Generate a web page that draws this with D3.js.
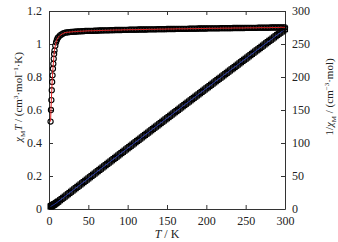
<!DOCTYPE html>
<html><head><meta charset="utf-8">
<script src="https://cdn.jsdelivr.net/npm/d3@7"></script>
<style>
html,body{margin:0;padding:0;background:#fff;}
svg{display:block;}
text{font-family:"Liberation Serif","Times New Roman",serif;fill:#222;}
</style></head><body>
<script>
const temps = [2,2.5,3,3.5,4,4.5,5,5.5,6,6.5,7,8,9,10,11,12,14,16,18,
20,22,24,26,28,30,32,34,36,38,40,42,44,46,48,50,52,54,56,58,60,62,64,66,68,70,72,74,76,78,80,82,84,86,88,90,92,94,96,98,100,
102,104,106,108,110,112,114,116,118,120,122,124,126,128,130,132,134,136,138,140,142,144,146,148,150,152,154,156,158,160,
162,164,166,168,170,172,174,176,178,180,182,184,186,188,190,192,194,196,198,200,202,204,206,208,210,212,214,216,218,220,
222,224,226,228,230,232,234,236,238,240,242,244,246,248,250,252,254,256,258,260,262,264,266,268,270,272,274,276,278,280,
282,284,286,288,290,292,294,296,298,300];
const chiT = [0.53,0.60,0.66,0.72,0.77,0.81,0.85,0.88,0.91,0.94,0.96,0.99,1.01,1.025,1.035,1.042,1.052,1.058,1.064,
1.068,1.070,1.071,1.072,1.073,1.074,1.075,1.075,1.076,1.077,1.077,1.078,1.078,1.079,1.079,1.080,1.080,1.080,1.080,1.081,1.081,1.081,1.082,1.082,1.082,1.083,1.083,1.083,1.083,1.084,1.084,1.084,1.085,1.085,1.085,1.085,1.085,1.086,1.086,1.086,1.086,
1.087,1.087,1.087,1.087,1.087,1.087,1.088,1.088,1.088,1.088,1.088,1.088,1.089,1.089,1.089,1.089,1.089,1.089,1.090,1.090,1.090,1.090,1.090,1.090,1.091,1.091,1.091,1.091,1.091,1.091,
1.092,1.092,1.092,1.092,1.092,1.092,1.092,1.092,1.093,1.093,1.093,1.093,1.093,1.093,1.094,1.094,1.094,1.094,1.094,1.094,1.095,1.095,1.095,1.095,1.095,1.095,1.095,1.095,1.096,1.096,
1.096,1.096,1.096,1.096,1.096,1.096,1.097,1.097,1.097,1.097,1.097,1.097,1.097,1.097,1.098,1.098,1.098,1.098,1.098,1.098,1.098,1.098,1.099,1.099,1.099,1.099,1.099,1.099,1.099,1.099,
1.100,1.100,1.100,1.100,1.100,1.100,1.101,1.101,1.101,1.101];
const invChi = [3.77,4.17,4.55,4.86,5.19,5.56,5.88,6.25,6.59,6.91,7.29,8.08,8.91,9.76,10.63,11.52,13.31,15.12,16.92,
18.73,20.56,22.41,24.25,26.10,27.93,29.77,31.63,33.46,35.28,37.14,38.96,40.82,42.63,44.49,46.30,48.15,50.00,51.85,53.66,55.50,57.36,59.15,61.00,62.85,64.64,66.48,68.33,70.18,71.96,73.80,75.65,77.42,79.27,81.11,82.95,84.79,86.56,88.40,90.24,92.08,
93.84,95.68,97.52,99.36,101.20,103.04,104.78,106.62,108.45,110.29,112.13,113.97,115.71,117.54,119.38,121.21,123.05,124.89,126.60,128.44,130.27,132.11,133.94,135.78,137.49,139.32,141.16,142.99,144.82,146.65,
148.36,150.18,152.02,153.85,155.69,157.51,159.35,161.17,162.85,164.68,166.51,168.34,170.17,172.00,173.68,175.50,177.34,179.16,180.99,182.82,184.47,186.30,188.12,189.95,191.77,193.61,195.42,197.26,198.90,200.73,
202.55,204.38,206.20,208.03,209.85,211.68,213.31,215.13,216.96,218.78,220.61,222.43,224.25,226.07,227.68,229.51,231.32,233.15,234.96,236.79,238.60,240.44,242.03,243.86,245.67,247.50,249.31,251.14,252.95,254.78,
256.37,258.18,260.00,261.82,263.64,265.45,267.04,268.85,270.67,272.48];
const xTicks = [0,50,100,150,200,250,300];
const leftTicks = [0,0.2,0.4,0.6,0.8,1,1.2];
const rightTicks = [0,50,100,150,200,250,300];

const W=338,H=242;
const m={l:49,r:53,t:11,b:33};
const svg=d3.select("body").append("svg").attr("width",W).attr("height",H);
const x=d3.scaleLinear().domain([0,300]).range([m.l,W-m.r]);
const yL=d3.scaleLinear().domain([0,1.2]).range([H-m.b,m.t]);
const yR=d3.scaleLinear().domain([0,300]).range([H-m.b,m.t]);

const fs=12;
function styleAxis(g){
  g.attr("font-family",null);
  g.selectAll("path").attr("stroke","#333").attr("stroke-width",1);
  g.selectAll("line").attr("stroke","#333").attr("stroke-width",1);
  g.selectAll("text").attr("font-size",fs).attr("font-family","Liberation Serif").attr("fill","#222");
}
svg.append("g").attr("transform",`translate(0,${H-m.b})`)
  .call(d3.axisBottom(x).tickValues(xTicks).tickSizeInner(-4).tickSizeOuter(0).tickPadding(7).tickFormat(d3.format("d")))
  .call(styleAxis);
svg.append("g").attr("transform",`translate(0,${m.t})`)
  .call(d3.axisTop(x).tickValues(xTicks).tickSizeInner(-4).tickSizeOuter(0).tickFormat(""))
  .call(styleAxis);
svg.append("g").attr("transform",`translate(${m.l},0)`)
  .call(d3.axisLeft(yL).tickValues(leftTicks).tickSizeInner(-4).tickSizeOuter(0).tickPadding(7).tickFormat(d=>String(+d.toFixed(1))))
  .call(styleAxis);
svg.append("g").attr("transform",`translate(${W-m.r},0)`)
  .call(d3.axisRight(yR).tickValues(rightTicks).tickSizeInner(-4).tickSizeOuter(0).tickPadding(7).tickFormat(d3.format("d")))
  .call(styleAxis);

const data = temps.map((t,i)=>({t, c:chiT[i], v:invChi[i]}));

const sq=5;
svg.append("g").selectAll("rect").data(data).join("rect")
  .attr("x",d=>x(d.t)-sq/2).attr("y",d=>yR(d.v)-sq/2).attr("width",sq).attr("height",sq)
  .attr("fill","none").attr("stroke","#000").attr("stroke-width",1.1);
svg.append("path").datum(data)
  .attr("d",d3.line().x(d=>x(d.t)).y(d=>yR(d.v)))
  .attr("fill","none").attr("stroke","#2a3cb0").attr("stroke-width",1);

svg.append("g").selectAll("circle").data(data).join("circle")
  .attr("cx",d=>x(d.t)).attr("cy",d=>yL(d.c)).attr("r",2.6)
  .attr("fill","none").attr("stroke","#000").attr("stroke-width",1.1);
svg.append("path").datum(data)
  .attr("d",d3.line().x(d=>x(d.t)).y(d=>yL(d.c)))
  .attr("fill","none").attr("stroke","#e02020").attr("stroke-width",1);

const xt=svg.append("text").attr("x",(m.l+W-m.r)/2).attr("y",238).attr("text-anchor","middle").attr("font-size",12);
xt.append("tspan").attr("font-style","italic").text("T");
xt.append("tspan").text(" / K");

const lt=svg.append("text").attr("transform",`translate(22,97) rotate(-90)`).attr("text-anchor","middle").attr("font-size",11);
lt.append("tspan").attr("font-style","italic").text("χ");
lt.append("tspan").attr("font-size",7).attr("dy",3).text("M");
lt.append("tspan").attr("font-style","italic").attr("dy",-3).text("T");
lt.append("tspan").text(" / (cm");
lt.append("tspan").attr("font-size",7).attr("dy",-4).text("3");
lt.append("tspan").attr("dy",4).text("·mol");
lt.append("tspan").attr("font-size",7).attr("dy",-4).text("−1");
lt.append("tspan").attr("dy",4).text("·K)");

const rt=svg.append("text").attr("transform",`translate(333,97) rotate(-90)`).attr("text-anchor","middle").attr("font-size",11);
rt.append("tspan").text("1/");
rt.append("tspan").attr("font-style","italic").text("χ");
rt.append("tspan").attr("font-size",7).attr("dy",3).text("M");
rt.append("tspan").attr("dy",-3).text(" / (cm");
rt.append("tspan").attr("font-size",7).attr("dy",-4).text("−3");
rt.append("tspan").attr("dy",4).text("·mol)");
</script>
</body></html>
